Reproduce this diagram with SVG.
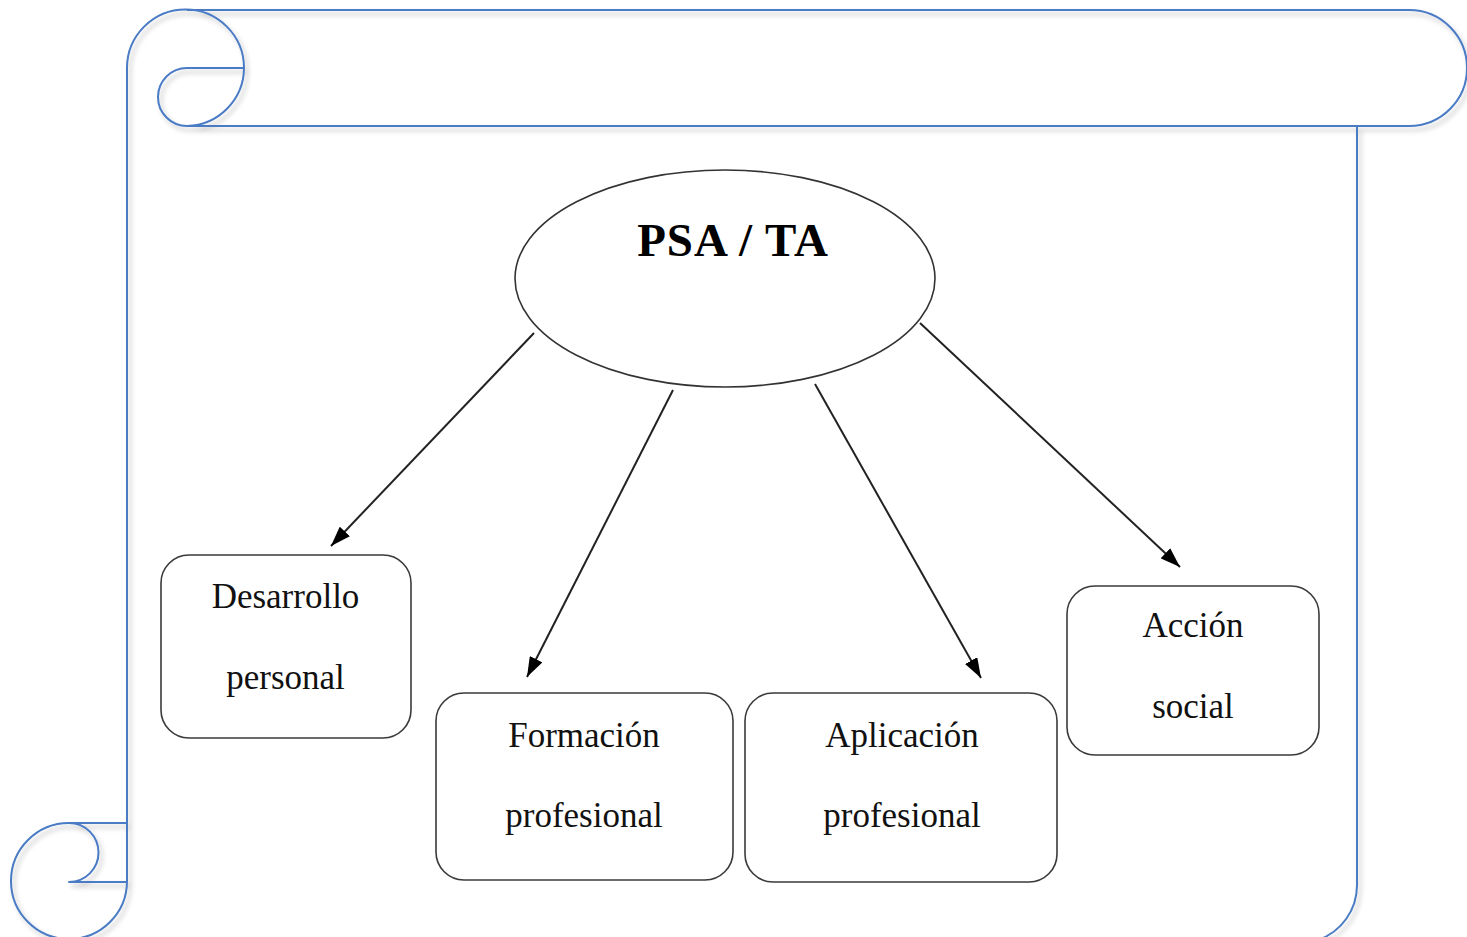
<svg xmlns="http://www.w3.org/2000/svg" width="1467" height="937" viewBox="0 0 1467 937">
<defs>
<style>
.scroll{fill:none;stroke:#4a7bc4;stroke-width:2;stroke-linejoin:round}
.box{fill:#fff;stroke:#3a3a3a;stroke-width:1.6}
.lbl{font-family:"Liberation Serif","Times New Roman",serif;font-size:35px;fill:#111;text-anchor:middle}
.title{font-family:"Liberation Serif","Times New Roman",serif;font-size:47px;font-weight:bold;fill:#000;text-anchor:middle;letter-spacing:1px}
.conn{stroke:#222;stroke-width:2;fill:none}
</style>
<filter id="sh" x="-5%" y="-5%" width="110%" height="110%">
<feGaussianBlur in="SourceAlpha" stdDeviation="2.5"/>
<feOffset dx="3" dy="4" result="b"/>
<feComponentTransfer><feFuncA type="linear" slope="0.25"/></feComponentTransfer>
<feMerge><feMergeNode/><feMergeNode in="SourceGraphic"/></feMerge>
</filter>
<marker id="ah" viewBox="0 0 20 14" refX="20" refY="7" markerWidth="20" markerHeight="14" markerUnits="userSpaceOnUse" orient="auto">
<path d="M0,0 L20,7 L0,14 Z" fill="#000"/>
</marker>
</defs>
<rect width="1467" height="937" fill="#fff"/>
<g id="scroll" class="scroll" filter="url(#sh)">
<path d="M187,10 L1409,10 A58,58 0 0 1 1409,126 L187,126"/>
<path d="M127,68 A58.5,58.5 0 0 1 244,68 A58.5,58.5 0 0 1 187,126 A29,29 0 0 1 187,68 L244,68"/>
<path d="M127,68 L127,881"/>
<path d="M1357,126 L1357,885 A58,58 0 0 1 1318,940"/>
<path d="M69,823 L127,823 M69,823 A29,29 0 0 1 69,882 L127,882 M127,881 A58,58 0 1 1 69,823"/>
</g>
<g id="connectors">
<line class="conn" x1="534" y1="333" x2="331" y2="546" marker-end="url(#ah)"/>
<line class="conn" x1="673" y1="390" x2="527" y2="677" marker-end="url(#ah)"/>
<line class="conn" x1="815" y1="384" x2="981" y2="678" marker-end="url(#ah)"/>
<line class="conn" x1="920" y1="323" x2="1180" y2="567" marker-end="url(#ah)"/>
</g>
<g id="psa-ta">
<ellipse cx="725" cy="278.5" rx="210" ry="108.5" fill="none" stroke="#333" stroke-width="1.6"/>
<text class="title" x="733" y="256">PSA / TA</text>
</g>
<g id="desarrollo-personal">
<rect class="box" x="161" y="555" width="250" height="183" rx="28"/>
<text class="lbl" x="285.5" y="608">Desarrollo</text>
<text class="lbl" x="285.5" y="689">personal</text>
</g>
<g id="formacion-profesional">
<rect class="box" x="436" y="693" width="297" height="187" rx="28"/>
<text class="lbl" x="584" y="747">Formación</text>
<text class="lbl" x="584" y="827">profesional</text>
</g>
<g id="aplicacion-profesional">
<rect class="box" x="745" y="693" width="312" height="189" rx="28"/>
<text class="lbl" x="902" y="747">Aplicación</text>
<text class="lbl" x="902" y="827">profesional</text>
</g>
<g id="accion-social">
<rect class="box" x="1067" y="586" width="252" height="169" rx="28"/>
<text class="lbl" x="1193" y="637">Acción</text>
<text class="lbl" x="1193" y="718">social</text>
</g>
</svg>
